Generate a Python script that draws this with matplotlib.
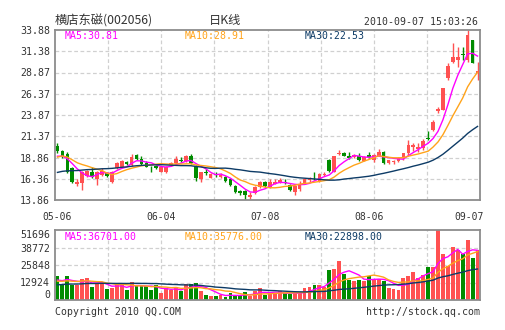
import matplotlib
matplotlib.use('Agg')
import matplotlib.pyplot as plt
import matplotlib.transforms as mtransforms
import numpy as np
import pandas as pd

plt.rcParams['font.family'] = ['DejaVu Sans Mono']

# closes / volumes of the 29 sessions before 05-06, only used to warm up the MAs
pre_close = [15.2, 15.4, 15.3, 15.6, 15.5, 15.8, 15.9, 16.1, 16.0, 16.3,
             16.2, 16.5, 16.4, 16.7, 16.6, 16.9, 17.0, 16.8, 17.1, 16.9,
             17.6, 18.5, 19.2, 19.4, 19.3, 19.0, 18.6, 18.9, 19.0]
pre_vol = [8200, 9100, 7800, 10500, 9600, 8800, 11200, 9900, 10400, 8700,
           9500, 10800, 11600, 9300, 10100, 9800, 11900, 10400, 10700, 10500,
           12600, 14800, 13200, 12400, 12500, 14100, 13300, 14600, 13560]

# daily K line 2010-05-06 .. 2010-09-07
opens = [20.2, 19.6, 19.3, 17.6, 15.8, 15.9, 16.7, 17.1, 16.3, 16.8,
         17.0, 16.0, 17.6, 17.8, 18.3, 18.0, 19.2, 18.7, 18.2, 17.8,
         17.9, 17.2, 17.1, 18.0, 18.2, 18.6, 18.4, 19.0, 17.9, 16.3,
         17.1, 16.5, 16.9, 16.6, 16.6, 16.3, 15.5, 14.9, 14.9, 14.25,
         14.7, 15.4, 16.0, 15.4, 15.75, 16.0, 15.95, 15.6, 14.8, 15.2,
         15.8, 16.2, 16.5, 16.1, 16.8, 18.6, 17.2, 19.25, 19.35, 19.1,
         18.9, 19.0, 18.45, 19.2, 18.6, 19.05, 19.5, 18.2, 18.3, 18.4,
         18.8, 19.45, 20.15, 19.85, 19.95, 21.2, 22.1, 24.3, 24.5, 28.2,
         30.15, 30.35, 31.0, 30.35, 32.7, 28.85]
highs = [20.6, 19.8, 19.5, 17.7, 16.3, 17.3, 17.4, 17.7, 17.3, 17.6,
         17.2, 17.3, 18.3, 18.6, 18.5, 19.3, 19.3, 19.0, 18.4, 17.9,
         18.0, 17.9, 17.9, 18.3, 19.0, 18.9, 19.2, 19.3, 18.0, 17.2,
         17.5, 17.0, 17.1, 17.0, 16.7, 16.4, 15.6, 15.0, 15.0, 14.8,
         15.5, 16.1, 16.1, 16.3, 16.3, 16.5, 16.3, 15.7, 15.6, 16.1,
         16.4, 16.6, 17.1, 17.0, 17.1, 18.7, 19.1, 19.8, 19.5, 19.5,
         19.3, 19.4, 19.0, 19.5, 19.3, 19.9, 19.6, 18.6, 18.6, 18.9,
         19.4, 20.9, 20.55, 20.55, 21.0, 22.0, 23.3, 24.85, 27.1, 30.0,
         32.3, 31.9, 31.85, 33.88, 32.75, 30.15]
lows = [19.4, 18.8, 17.0, 15.9, 15.5, 15.0, 16.6, 16.5, 15.6, 16.7,
        16.6, 15.9, 17.5, 17.7, 18.0, 17.9, 18.6, 18.0, 17.7, 17.2,
        17.5, 17.1, 17.0, 17.9, 18.1, 18.3, 18.3, 18.1, 16.1, 16.0,
        16.8, 16.4, 16.6, 16.4, 16.0, 15.5, 14.7, 14.5, 13.86, 14.0,
        14.6, 15.3, 15.4, 15.3, 15.7, 15.9, 15.7, 14.9, 14.5, 14.9,
        15.7, 16.0, 16.2, 16.0, 16.7, 17.2, 17.1, 19.2, 19.0, 18.7,
        18.8, 18.5, 18.4, 18.8, 18.3, 19.0, 18.1, 18.1, 18.1, 18.3,
        18.6, 19.2, 19.6, 19.55, 19.7, 20.95, 22.0, 24.05, 24.4, 28.0,
        29.95, 29.55, 30.35, 30.15, 29.96, 28.05]
closes = [19.6, 19.0, 17.1, 16.0, 15.95, 17.2, 17.3, 16.6, 17.2, 17.3,
          16.7, 17.2, 18.2, 18.5, 18.1, 18.9, 18.7, 18.1, 17.8, 17.7,
          17.6, 17.8, 17.8, 18.2, 18.7, 18.5, 19.0, 18.2, 16.4, 17.1,
          17.0, 16.9, 16.8, 16.75, 16.1, 15.6, 14.8, 14.65, 14.5, 14.5,
          15.4, 16.0, 15.5, 16.0, 16.0, 16.2, 15.85, 15.0, 15.5, 15.8,
          16.3, 16.5, 16.4, 16.9, 16.95, 17.3, 19.0, 19.45, 19.1, 18.8,
          19.2, 18.6, 18.95, 18.9, 19.15, 19.5, 18.2, 18.55, 18.45, 18.8,
          19.35, 20.3, 20.35, 20.15, 20.8, 21.1, 23.1, 24.55, 27.0, 29.65,
          30.75, 30.75, 30.9, 33.3, 30.0, 29.1]
volumes = [17940, 12060, 17690, 10720, 10720, 15280, 16080, 9920, 11520, 12860,
           8040, 8580, 10720, 11790, 7500, 13400, 10180, 10180, 10180, 7500,
           10720, 4820, 8840, 7500, 9380, 6700, 11790, 11520, 12600, 6700,
           4020, 3220, 3220, 4020, 2140, 4820, 2680, 3220, 5900, 3220,
           6700, 8580, 4020, 4820, 4820, 6700, 4820, 4290, 4820, 4820,
           8580, 9380, 11260, 11260, 9380, 21970, 22780, 28940, 19560, 14600,
           14300, 14900, 13800, 17600, 15400, 15400, 14100, 8840, 8040, 7500,
           16080, 17420, 20900, 16080, 18760, 24180, 24300, 51696, 34200, 25100,
           38959, 36800, 34100, 44400, 31000, 37205]

tick_idx = [0, 21, 42, 63, 85]
tick_lbl = ['05-06', '06-04', '07-08', '08-06', '09-07']
price_lbl = ['13.86', '16.36', '18.86', '21.37', '23.87', '26.37', '28.87', '31.38', '33.88']
vol_lbl = ['0', '12924', '25848', '38772', '51696']

RED = '#ff5151'
GREEN = '#008c00'
MA_COLORS = {5: '#ff00ff', 10: '#ffa31a', 30: '#0d3b66'}
FRAME = '#8c8c8c'
GRID = '#d0d0d0'
TXT = '#333333'

opens, highs, lows, closes = map(np.array, (opens, highs, lows, closes))
volumes = np.array(volumes)
n = len(closes)
x = np.arange(n)
up = closes >= opens
colors = np.where(up, RED, GREEN)

all_close = pd.Series(list(pre_close) + list(closes))
all_vol = pd.Series(list(pre_vol) + list(volumes), dtype=float)
pma = {k: all_close.rolling(k).mean().values[-n:] for k in (5, 10, 30)}
vma = {k: all_vol.rolling(k).mean().values[-n:] for k in (5, 10, 30)}

fig = plt.figure(figsize=(5.05, 3.30), dpi=100)
ax = fig.add_axes([55 / 505, 130 / 330, 425 / 505, 170 / 330])
axv = fig.add_axes([55 / 505, 30 / 330, 425 / 505, 70 / 330])

def frame(a):
    for s in a.spines.values():
        s.set_color(FRAME)
        s.set_linewidth(1.3)
    a.tick_params(length=0, labelsize=7.1, colors=TXT, pad=3.5)
    a.set_xlim(-0.5, n - 0.5)
    for k in range(1, 8):
        a.axvline(-0.5 + k * n / 8, color=GRID, lw=0.9, ls=(0, (3, 2)), zorder=0)

# price panel
lo, hi = lows.min(), highs.max()
frame(ax)
ax.set_ylim(lo, hi)
pticks = np.linspace(lo, hi, 9)
ax.set_yticks(pticks)
ax.set_yticklabels(price_lbl)
for t in pticks[1:-1]:
    ax.axhline(t, color=GRID, lw=0.9, ls=(0, (3, 2)), zorder=0)

body = np.maximum(np.abs(closes - opens), 0.07)
ax.vlines(x, lows, highs, colors=colors, lw=1, zorder=2)
ax.bar(x, body, bottom=np.minimum(opens, closes), width=0.74, color=colors,
       linewidth=0, zorder=3)
for k, c in MA_COLORS.items():
    ax.plot(x, pma[k], color=c, lw=1, zorder=4)

ax.set_xticks(tick_idx)
ax.set_xticklabels(tick_lbl)
ax.tick_params(axis='x', labelsize=7.0, pad=9)
last = ax.get_xticklabels()[-1]
last.set_transform(last.get_transform() + mtransforms.ScaledTranslation(-8 / 100, 0, fig.dpi_scale_trans))

for k, xpos in zip((5, 10, 30), (10 / 425, 130 / 425, 250 / 425)):
    ax.text(xpos, 0.962, f'MA{k}:{pma[k][-1]:.2f}', transform=ax.transAxes,
            color=MA_COLORS[k], fontsize=7.1, va='center')

# volume panel
vmax = volumes.max()
frame(axv)
axv.set_ylim(0, vmax)
vticks = np.linspace(0, vmax, 5)
axv.set_yticks(vticks)
axv.set_yticklabels(vol_lbl)
axv.get_yticklabels()[0].set_va('bottom')
axv.get_yticklabels()[-1].set_va('top')
for t in vticks[1:-1]:
    axv.axhline(t, color=GRID, lw=0.9, ls=(0, (3, 2)), zorder=0)
axv.set_xticks([])
axv.bar(x, volumes, width=0.78, color=colors, linewidth=0, zorder=2)
for k, c in MA_COLORS.items():
    axv.plot(x, vma[k], color=c, lw=1, zorder=4)
for k, xpos in zip((5, 10, 30), (10 / 425, 130 / 425, 250 / 425)):
    axv.text(xpos, 0.9, f'MA{k}:{vma[k][-1]:.2f}', transform=axv.transAxes,
             color=MA_COLORS[k], fontsize=7.1, va='center')

# header and footer
cjk = ['Noto Sans CJK SC', 'DejaVu Sans']
fig.text(55 / 505, 1 - 20.5 / 330, '横店东磁(002056)', family=cjk, fontsize=8.8,
         color=TXT, va='center')
fig.text(225 / 505, 1 - 20.5 / 330, '日K线', family=cjk, fontsize=8.8,
         color=TXT, va='center', ha='center')
fig.text(478 / 505, 1 - 22 / 330, '2010-09-07 15:03:26', fontsize=7.1,
         color=TXT, va='center', ha='right')
fig.text(55 / 505, 1 - 312 / 330, 'Copyright 2010 QQ.COM', fontsize=7.1,
         color=TXT, va='center')
fig.text(480 / 505, 1 - 312 / 330, 'http://stock.qq.com', fontsize=7.1,
         color=TXT, va='center', ha='right')

fig.savefig('out.png', dpi=100)
